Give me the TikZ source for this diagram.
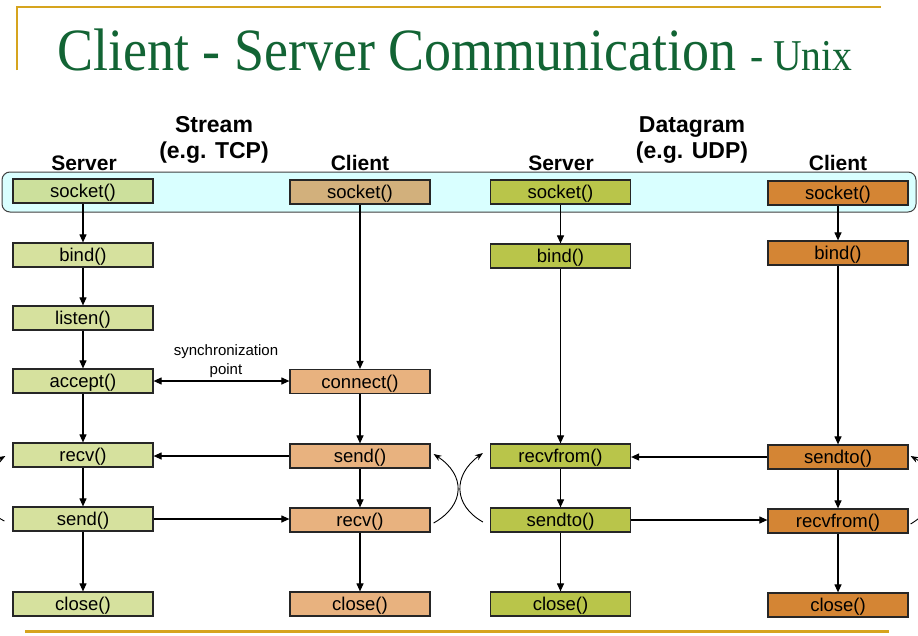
\documentclass[tikz,border=0pt]{standalone}
\usepackage{fontspec}
\usepackage{graphicx}
\setmainfont{Liberation Sans}
\newfontfamily\titlefont{Liberation Serif}
\usetikzlibrary{arrows.meta,calc}
\definecolor{titlegreen}{RGB}{18,100,52}
\definecolor{goldline}{RGB}{214,164,30}
\definecolor{bandcyan}{RGB}{217,255,255}
\definecolor{cA}{RGB}{214,225,158}
\definecolor{cAs}{RGB}{204,224,156}
\definecolor{cB}{RGB}{232,178,127}
\definecolor{cBs}{RGB}{210,176,124}
\definecolor{cC}{RGB}{185,197,74}
\definecolor{cD}{RGB}{212,133,52}
\tikzset{
  fnbox/.style={draw=black!85, line width=1.2pt, minimum width=140pt, minimum height=24pt, inner sep=0pt, text height=15pt, text depth=2pt, font=\fontsize{18.5}{18.5}\selectfont},
  arr/.style={-{Triangle[length=8pt,width=7pt]}, line width=1.1pt},
  darr/.style={{Triangle[length=8pt,width=7pt]}-{Triangle[length=8pt,width=7pt]}, line width=1.1pt},
  curv/.style={-{Stealth[length=8pt,width=6pt]}, line width=0.9pt},
  hdrA/.style={font=\bfseries\fontsize{23}{23}\selectfont, anchor=base, inner sep=0pt},
  hdrB/.style={font=\bfseries\fontsize{21}{21}\selectfont, anchor=base, inner sep=0pt},
}
\begin{document}
\begin{tikzpicture}[x=1pt,y=-1pt]
\useasboundingbox (0,0) rectangle (918,635);
\begin{scope}
\clip (0,0) rectangle (918,635);
\fill[white] (0,0) rectangle (918,635);
% decorative rules
\draw[goldline, line width=1.5pt] (17,70) -- (17,7) -- (881,7);
\draw[goldline, line width=3pt] (25,631) -- (889,631);
% title
\node[anchor=base west, text=titlegreen, inner sep=0pt] (title) at (57,70)
  {\scalebox{0.9}[1]{\titlefont\fontsize{60}{60}\selectfont Client - Server Communication\ \fontsize{44}{44}\selectfont - Unix}};
% headers
\node[hdrA] (hstream) at (214,132) {Stream};
\node[hdrA] (htcp) at (214,158) {(e.g. TCP)};
\node[hdrA] (hdgram) at (692,132) {Datagram};
\node[hdrA] (hudp) at (692,158) {(e.g. UDP)};
\node[hdrB] (hs1) at (84,170) {Server};
\node[hdrB] (hc1) at (360,170) {Client};
\node[hdrB] (hs2) at (561,170) {Server};
\node[hdrB] (hc2) at (838,170) {Client};
% band
\node[draw=black!75, fill=bandcyan, rounded corners=8pt, line width=1pt, minimum width=914pt, minimum height=40pt, inner sep=0pt] (band) at (459,192) {};
% column 1
\node[fnbox, fill=cAs] (sock1) at (83,191) {socket()};
\node[fnbox, fill=cA] (bind1) at (83,255) {bind()};
\node[fnbox, fill=cA] (listen1) at (83,318) {listen()};
\node[fnbox, fill=cA] (accept1) at (83,381) {accept()};
\node[fnbox, fill=cA] (recv1) at (83,455) {recv()};
\node[fnbox, fill=cA] (send1) at (83,519) {send()};
\node[fnbox, fill=cA] (close1) at (83,604) {close()};
% column 2
\node[fnbox, fill=cBs] (sock2) at (360,192) {socket()};
\node[fnbox, fill=cB] (connect2) at (360,381.5) {connect()};
\node[fnbox, fill=cB] (send2) at (360,456) {send()};
\node[fnbox, fill=cB] (recv2) at (360,520) {recv()};
\node[fnbox, fill=cB] (close2) at (360,604) {close()};
% column 3
\node[fnbox, fill=cC] (sock3) at (560.5,192) {socket()};
\node[fnbox, fill=cC] (bind3) at (560.5,256) {bind()};
\node[fnbox, fill=cC] (recvfrom3) at (560.5,456) {recvfrom()};
\node[fnbox, fill=cC] (sendto3) at (560.5,520) {sendto()};
\node[fnbox, fill=cC] (close3) at (560.5,604) {close()};
% column 4
\node[fnbox, fill=cD] (sock4) at (838,193) {socket()};
\node[fnbox, fill=cD] (bind4) at (838,253) {bind()};
\node[fnbox, fill=cD] (sendto4) at (838,457) {sendto()};
\node[fnbox, fill=cD] (recvfrom4) at (838,521) {recvfrom()};
\node[fnbox, fill=cD] (close4) at (838,605) {close()};
% vertical flow
\draw[arr] (sock1) -- (bind1);
\draw[arr] (bind1) -- (listen1);
\draw[arr] (listen1) -- (accept1);
\draw[arr] (accept1) -- (recv1);
\draw[arr] (recv1) -- (send1);
\draw[arr] (send1) -- (close1);
\draw[arr] (sock2) -- (connect2);
\draw[arr] (connect2) -- (send2);
\draw[arr] (send2) -- (recv2);
\draw[arr] (recv2) -- (close2);
\draw[arr] (sock3) -- (bind3);
\draw[arr] (bind3) -- (recvfrom3);
\draw[arr] (recvfrom3) -- (sendto3);
\draw[arr] (sendto3) -- (close3);
\draw[arr] (sock4) -- (bind4);
\draw[arr] (bind4) -- (sendto4);
\draw[arr] (sendto4) -- (recvfrom4);
\draw[arr] (recvfrom4) -- (close4);
% horizontal messages
\draw[darr] (accept1.east) -- (accept1.east -| connect2.west);
\node[font=\fontsize{15}{19}\selectfont, align=center, inner sep=0pt] (sync) at (226,361) {synchronization\\point};
\draw[arr] (send2.west) -- (send2.west -| recv1.east);
\draw[arr] (send1.east) -- (send1.east -| recv2.west);
\draw[arr] (sendto4.west) -- (sendto4.west -| recvfrom3.east);
\draw[arr] (sendto3.east) -- (sendto3.east -| recvfrom4.west);
% loops
\draw[curv] ($(recv2.east)+(3,3)$) .. controls +(32,-18) and +(32,21) .. ($(send2.east)+(3,-2)$);
\draw[curv] ($(sendto3.west)+(-7,2)$) .. controls +(-30,-17) and +(-30,22) .. ($(recvfrom3.west)+(-7,-3)$);
\draw[curv] ($(send1.west)+(-8,2)$) .. controls +(-32,-16) and +(-32,18) .. ($(recv1.west)+(-7,1)$);
\draw[curv] ($(recvfrom4.east)+(2,3)$) .. controls +(32,-19) and +(32,18) .. ($(sendto4.east)+(2,-1)$);
\end{scope}
\end{tikzpicture}
\end{document}
